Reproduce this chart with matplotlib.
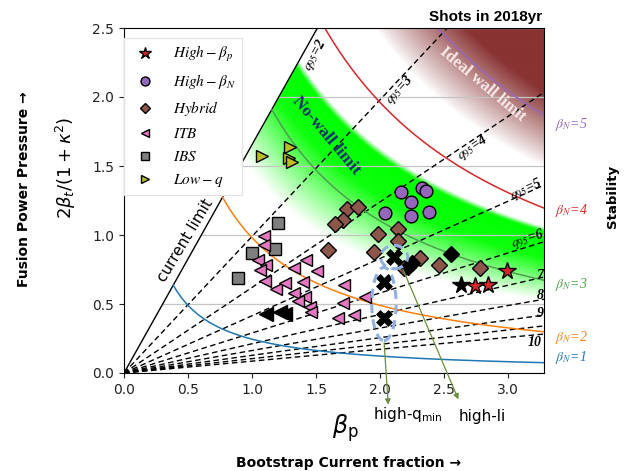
import numpy as np
import matplotlib.pyplot as plt
from matplotlib.patches import Ellipse, Polygon

plt.rcParams['mathtext.fontset'] = 'stix'

# limits / scale constants
x_max = 3.28
y_max = 2.5
bn_const = 0.245        # x*y along the beta_N = 1 curve
cur_slope = 1.655       # q95 = 2 (current limit) line

bn_vals = [1, 2, 3, 4, 5]
bn_colors = ['#1f77b4', '#ff7f0e', '#4c9f4c', '#d62728', '#9467bd']

q_vals = [3, 4, 5, 6, 7, 8, 9, 10, 11]
q_slopes = [0.99, 0.62, 0.415, 0.29, 0.212, 0.163, 0.128, 0.104, 0.086]

# shots
hbp_x = [2.99, 2.84, 2.74]
hbp_y = [0.74, 0.64, 0.63]
hbp_blk_x = [2.63]
hbp_blk_y = [0.64]

hbn_x = [2.16, 2.33, 2.36, 2.24, 2.04, 2.24, 2.38]
hbn_y = [1.31, 1.34, 1.32, 1.24, 1.16, 1.14, 1.17]

hyb_x = [1.74, 1.83, 1.71, 1.65, 1.59, 1.98, 2.14, 2.14, 1.95, 2.31, 2.46, 2.19, 2.78]
hyb_y = [1.19, 1.20, 1.11, 1.08, 0.89, 1.01, 1.04, 0.96, 0.88, 0.83, 0.78, 0.76, 0.76]
hyb_blk_x = [2.22, 2.25, 2.55]
hyb_blk_y = [0.77, 0.80, 0.86]

itb_x = [1.09, 1.09, 1.05, 1.11, 1.06, 1.10, 1.42, 1.33, 1.51, 1.19, 1.26,
         1.40, 1.33, 1.41, 1.36, 1.45, 1.46, 1.72, 1.71, 1.67, 1.80, 1.88]
itb_y = [0.99, 0.93, 0.82, 0.78, 0.75, 0.67, 0.82, 0.76, 0.74, 0.61, 0.65,
         0.66, 0.58, 0.55, 0.52, 0.48, 0.44, 0.64, 0.51, 0.40, 0.42, 0.55]
itb_blk_x = [1.11, 1.22, 1.26]
itb_blk_y = [0.43, 0.44, 0.43]

ibs_x = [1.20, 1.18, 1.00, 0.89]
ibs_y = [1.09, 0.90, 0.87, 0.69]

lowq_x = [1.08, 1.30, 1.29, 1.31]
lowq_y = [1.57, 1.64, 1.56, 1.53]

cross_x = [2.11, 2.03, 2.03]
cross_y = [0.84, 0.66, 0.40]

W, H = 629, 471
fig = plt.figure(figsize=(W / 100, H / 100), dpi=100)
ax = fig.add_axes([124 / W, 1 - 373 / H, 420 / W, 345 / H])
ax.set_xlim(0, x_max)
ax.set_ylim(0, y_max)

# shaded stability bands
xs = np.linspace(0, x_max, 700)
ys = np.linspace(0, y_max, 600)
X, Y = np.meshgrid(xs, ys)
Xs = np.maximum(X, 1e-3)
inside = Y <= cur_slope * X

upper = 2.92 * Xs ** -0.869
r = Y / upper
a_g = np.interp(r.ravel(), [0.5, 0.64, 0.8, 0.985, 1.02], [0, 0.45, 0.95, 1, 0]).reshape(r.shape)
a_g[~inside] = 0
green = np.zeros(X.shape + (4,))
green[..., 1] = 1.0
green[..., 3] = a_g
ax.imshow(green, origin='lower', extent=[0, x_max, 0, y_max], aspect='auto',
          interpolation='bilinear', zorder=0.1)

P = X * Y
a_w = np.clip((P - 4.9) / (6.7 - 4.9), 0, 1) ** 0.9
a_w[~inside] = 0
wall = np.zeros(X.shape + (4,))
wall[..., 0] = 0.54
wall[..., 1] = 0.20
wall[..., 2] = 0.20
wall[..., 3] = a_w
ax.imshow(wall, origin='lower', extent=[0, x_max, 0, y_max], aspect='auto',
          interpolation='bilinear', zorder=0.2)

ax.set_axisbelow(True)
ax.yaxis.grid(True, color='#c4c4c4', lw=0.9)
x_top = y_max / cur_slope
ax.add_patch(Polygon([(0, 0), (x_top, y_max), (0, y_max)], closed=True,
                     facecolor='white', edgecolor='none', zorder=0.6))

# current limit / q95 = 2
ax.plot([0, x_top], [0, y_max], color='black', lw=1.0, zorder=2)

# q95 lines
for q, s in zip(q_vals, q_slopes):
    xe = min(x_max, y_max / s)
    ax.plot([0, xe], [0, s * xe], color='black', ls='--', lw=1.0, dashes=(4, 2.5), zorder=2)

# beta_N curves
for bn, c in zip(bn_vals, bn_colors):
    k = bn_const * bn ** 2
    x0 = max(np.sqrt(k / cur_slope), k / y_max)
    xx = np.linspace(x0, x_max, 300)
    ax.plot(xx, k / xx, color=c, lw=1.1, zorder=2)

deg = lambda s: np.degrees(np.arctan(s * 138 / 128.3))

qlab = dict(family='Liberation Serif', style='italic', weight='bold', fontsize=10,
            ha='center', va='center', zorder=4)
ax.text(1.49, 2.30, r'$q_{95}$=2', rotation=deg(cur_slope), **qlab)
ax.text(2.15, 2.05, r'$q_{95}$=3', rotation=deg(0.99), **qlab)
ax.text(2.72, 1.63, r'$q_{95}$=4', rotation=deg(0.62), **qlab)
ax.text(3.14, 1.33, r'$q_{95}$=5', rotation=deg(0.415), **qlab)
ax.text(3.15, 0.97, r'$q_{95}$=6', rotation=deg(0.29), **qlab)
ax.text(3.25, 0.71, '7', **qlab)
ax.text(3.25, 0.56, '8', **qlab)
ax.text(3.25, 0.43, '9', **qlab)
ax.text(3.21, 0.22, '10', **qlab)

bn_y = [0.11, 0.26, 0.64, 1.18, 1.80]
for bn, c, yy in zip(bn_vals, bn_colors, bn_y):
    ax.text(3.49, yy, r'$\beta_N$=%d' % bn, color=c, fontsize=10, ha='center',
            va='center', clip_on=False, family='Liberation Serif', style='italic')

ax.text(0.475, 0.96, 'current limit', rotation=59, fontsize=11, ha='center', va='center', zorder=4)
ax.text(1.58, 1.72, 'No-wall limit', rotation=-50, fontsize=12.5, color='#12306e',
        family='Liberation Serif', weight='bold', ha='center', va='center', zorder=4)
ax.text(2.80, 2.09, 'Ideal wall limit', rotation=-40, fontsize=12, color='#fbeaea',
        family='Liberation Serif', weight='bold', ha='center', va='center', zorder=4)

# shots
mk = dict(linestyle='none', markeredgecolor='black', markeredgewidth=1.0, zorder=3)
ax.plot(ibs_x, ibs_y, 's', ms=8.6, color='#7f7f7f', label=r'$IBS$', **mk)
ax.plot(lowq_x, lowq_y, '>', ms=9, color='#bcbd22', label=r'$Low-q$', **mk)
ax.plot(itb_x, itb_y, '<', ms=9, color='#e377c2', label=r'$ITB$', **mk)
ax.plot(itb_blk_x, itb_blk_y, '<', ms=9.5, color='black', **mk)
ax.plot(hyb_x, hyb_y, 'D', ms=7.8, color='#8c564b', label=r'$Hybrid$', **mk)
ax.plot(hyb_blk_x, hyb_blk_y, 'D', ms=7.8, color='black', **mk)
ax.plot(hbn_x, hbn_y, 'o', ms=9.2, color='#9467bd', label=r'$High-\beta_N$', **mk)
ax.plot(hbp_x, hbp_y, '*', ms=13, color='#d62728', label=r'$High-\beta_p$', **mk)
ax.plot(hbp_blk_x, hbp_blk_y, '*', ms=13, color='black', **mk)
ax.plot(cross_x, cross_y, 'X', ms=11, color='black', markeredgewidth=0.5,
        linestyle='none', zorder=3)

# dashed ellipses and arrows
for (cx, cy, w, h) in [(2.11, 0.84, 0.21, 0.17), (2.03, 0.50, 0.19, 0.53)]:
    ax.add_patch(Ellipse((cx, cy), w, h, fill=False, edgecolor='#8fb0e0', lw=2.2,
                         ls=(0, (3, 2)), zorder=3.5))
ax.annotate('', xy=(2.065, -0.25), xytext=(2.03, 0.24), annotation_clip=False,
            arrowprops=dict(arrowstyle='-|>', color='#6a8f3a', lw=0.9, mutation_scale=8))
ax.annotate('', xy=(2.62, -0.21), xytext=(2.17, 0.77), annotation_clip=False,
            arrowprops=dict(arrowstyle='-|>', color='#6a8f3a', lw=0.9, mutation_scale=8))

h, l = ax.get_legend_handles_labels()
order = [l.index(t) for t in [r'$High-\beta_p$', r'$High-\beta_N$', r'$Hybrid$',
                              r'$ITB$', r'$IBS$', r'$Low-q$']]
leg = ax.legend([h[i] for i in order], [l[i] for i in order], loc='upper left',
                bbox_to_anchor=(0.0, 0.97), borderaxespad=0, fontsize=11,
                markerscale=0.7, labelspacing=0.52, framealpha=1,
                edgecolor='#e4e4e4', fancybox=False)
leg.set_zorder(5)

ax.set_xticks(np.arange(0, 3.01, 0.5))
ax.set_yticks(np.arange(0, 2.51, 0.5))
ax.tick_params(labelsize=10, colors='#222222')
for sp in ax.spines.values():
    sp.set_color('black')

# outer texts
fx = lambda px: px / W
fy = lambda py: 1 - py / H
fig.text(fx(486), fy(17), 'Shots in 2018yr', family='Liberation Sans', weight='bold',
         fontsize=11, ha='center', va='center')
fig.text(fx(613), fy(196), 'Stability', weight='bold', fontsize=9.5, rotation=90,
         ha='center', va='center')
fig.text(fx(24), fy(189), 'Fusion Power Pressure \u2192', weight='bold', fontsize=10,
         rotation=90, ha='center', va='center')
fig.text(fx(66), fy(168), r'$2\beta_t/(1+\kappa^2)$', fontsize=13, rotation=90,
         ha='center', va='center', math_fontfamily='dejavusans')
fig.text(fx(345), fy(428), r'$\beta_\mathrm{p}$', fontsize=17, ha='center', va='center',
         math_fontfamily='dejavusans')
fig.text(fx(408), fy(415), r'high-q$_\mathrm{min}$', fontsize=11, ha='center', va='center',
         math_fontfamily='dejavusans')
fig.text(fx(482), fy(417), 'high-li', fontsize=11, ha='center', va='center')
fig.text(fx(349), fy(463), 'Bootstrap Current fraction \u2192', weight='bold', fontsize=10,
         ha='center', va='center')

fig.savefig('out.png', dpi=100)
